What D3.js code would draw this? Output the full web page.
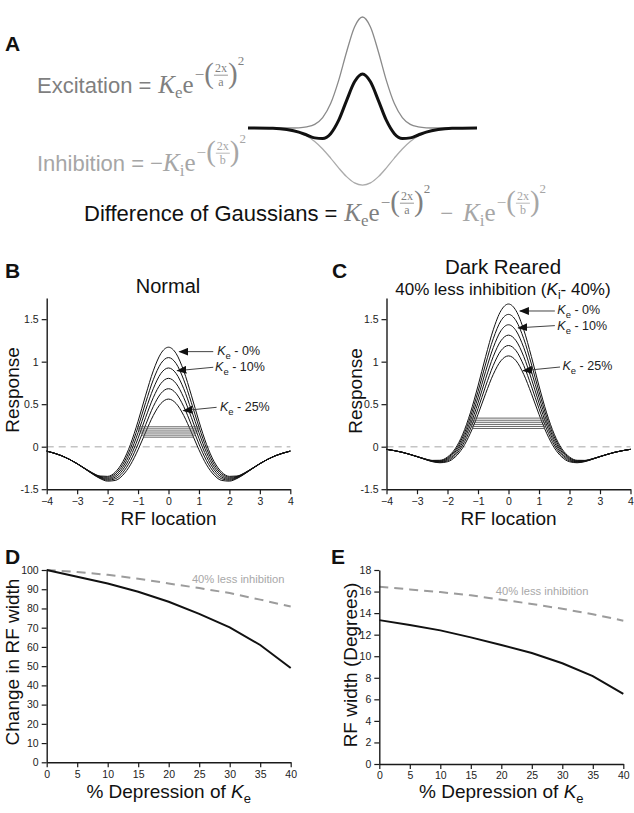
<!DOCTYPE html>
<html><head><meta charset="utf-8">
<script src="https://cdn.jsdelivr.net/npm/d3@7"></script>
<style>
body{margin:0;background:#fff}
svg{display:block}
</style>
</head><body>
<svg id="chart" width="634" height="813"></svg>
<script>
// ---------------- DATA ----------------
// Panel A schematic (offset from centre, arbitrary units; amplitude relative to excitation peak)
const schemOffset = [0, 8, 16, 24, 32, 40, 48, 56, 64, 76, 90, 115];
const schemExcitation = [1, 0.910, 0.685, 0.427, 0.220, 0.094, 0.033, 0.010, 0.002, 0.0002, 0, 0];
const schemInhibition = [0.514, 0.494, 0.438, 0.359, 0.271, 0.189, 0.122, 0.072, 0.040, 0.014, 0.003, 0.0001];
const schemDoG = [0.486, 0.416, 0.247, 0.068, -0.051, -0.095, -0.089, -0.063, -0.037, -0.014, -0.003, -0.0001];

// Panels B/C: RF location (right half, curves are symmetric)
const rfLocation = [0, 0.25, 0.5, 0.75, 1, 1.25, 1.5, 1.75, 2, 2.25, 2.5, 2.75, 3, 3.5, 4];
const keDepression = ["0%", "5%", "10%", "15%", "20%", "25%"];
const normalResponse = [
  [1.170, 1.096, 0.892, 0.606, 0.299, 0.026, -0.177, -0.300, -0.349, -0.345, -0.307, -0.254, -0.199, -0.108, -0.052],
  [1.048, 0.978, 0.787, 0.519, 0.232, -0.021, -0.209, -0.319, -0.360, -0.350, -0.310, -0.255, -0.199, -0.108, -0.052],
  [0.926, 0.861, 0.682, 0.432, 0.165, -0.069, -0.241, -0.339, -0.372, -0.356, -0.312, -0.256, -0.200, -0.108, -0.052],
  [0.804, 0.743, 0.577, 0.345, 0.098, -0.117, -0.272, -0.358, -0.383, -0.362, -0.315, -0.258, -0.200, -0.108, -0.052],
  [0.682, 0.626, 0.472, 0.258, 0.031, -0.165, -0.304, -0.378, -0.394, -0.368, -0.318, -0.259, -0.201, -0.108, -0.052],
  [0.560, 0.508, 0.367, 0.171, -0.036, -0.213, -0.335, -0.397, -0.405, -0.374, -0.321, -0.260, -0.201, -0.109, -0.052]
];
const darkResponse = [
  [1.678, 1.598, 1.375, 1.060, 0.715, 0.398, 0.147, -0.025, -0.121, -0.160, -0.161, -0.142, -0.115, -0.064, -0.031],
  [1.556, 1.480, 1.270, 0.973, 0.648, 0.350, 0.115, -0.044, -0.132, -0.166, -0.164, -0.143, -0.116, -0.064, -0.031],
  [1.434, 1.363, 1.165, 0.886, 0.581, 0.302, 0.083, -0.063, -0.143, -0.172, -0.167, -0.144, -0.116, -0.064, -0.031],
  [1.312, 1.245, 1.060, 0.799, 0.514, 0.255, 0.052, -0.083, -0.154, -0.177, -0.170, -0.146, -0.117, -0.065, -0.031],
  [1.190, 1.128, 0.955, 0.712, 0.447, 0.207, 0.020, -0.102, -0.166, -0.183, -0.173, -0.147, -0.117, -0.065, -0.031],
  [1.068, 1.010, 0.850, 0.625, 0.380, 0.159, -0.012, -0.122, -0.177, -0.189, -0.176, -0.148, -0.118, -0.065, -0.031]
];
// width-measurement bars (level, half-width)
const normalBarLevel = [0.234, 0.210, 0.185, 0.161, 0.136, 0.112];
const normalBarHalf = [1.06, 1.02, 0.98, 0.94, 0.88, 0.82];
const darkBarLevel = [0.336, 0.311, 0.287, 0.262, 0.238, 0.214];
const darkBarHalf = [1.31, 1.29, 1.27, 1.24, 1.22, 1.19];

const responseTicks = [-0.5, 0, 0.5, 1, 1.5];
const responseTickLabels = ["-1.5", "0", "0.5", "1", "1.5"];
const rfTicks = [-4, -3, -2, -1, 0, 1, 2, 3, 4];

// Panels D/E
const depressionKe = [0, 5, 10, 15, 20, 25, 30, 35, 40];
const widthChangeNormal = [100, 96.5, 93.0, 88.7, 83.5, 77.2, 70.2, 61.0, 49.0];
const widthChangeDark = [100, 99.0, 97.5, 95.5, 93.0, 90.6, 88.0, 84.6, 81.0];
const rfWidthNormal = [13.35, 12.9, 12.4, 11.75, 11.05, 10.3, 9.35, 8.15, 6.5];
const rfWidthDark = [16.45, 16.2, 15.95, 15.65, 15.25, 14.85, 14.4, 13.9, 13.3];
const changeTicks = [0, 10, 20, 30, 40, 50, 60, 70, 80, 90, 100];
const degreeTicks = [0, 2, 4, 6, 8, 10, 12, 14, 16, 18];
const depressionTicks = [0, 5, 10, 15, 20, 25, 30, 35, 40];

// ---------------- DRAWING ----------------
const SANS = '"Liberation Sans", Arial, Helvetica, sans-serif';
const SERIF = '"Liberation Serif", "Times New Roman", serif';
const svg = d3.select('#chart').attr('font-family', SANS);
const defs = svg.append('defs');
defs.append('marker').attr('id', 'arrowhead')
  .attr('markerUnits', 'userSpaceOnUse').attr('markerWidth', 10).attr('markerHeight', 8)
  .attr('refX', 9).attr('refY', 4).attr('orient', 'auto')
  .append('path').attr('d', 'M0,0 L10,4 L0,8 Z').attr('fill', '#111');

function panelLetter(t, x, y) {
  svg.append('text').attr('x', x).attr('y', y).attr('font-size', 21).attr('font-weight', 'bold')
    .attr('fill', '#111').text(t);
}
function styleAxis(g) {
  g.attr('font-family', SANS).attr('font-size', 10.5);
  g.selectAll('.domain').attr('stroke', '#1a1a1a').attr('stroke-width', 1.4);
  g.selectAll('.tick line').attr('stroke', '#1a1a1a').attr('stroke-width', 1.2);
  g.selectAll('.tick text').attr('fill', '#222');
}
function kLabel(sel, sub, before, after, subSize, shift) {
  if (before) sel.append('tspan').text(before);
  sel.append('tspan').attr('font-style', 'italic').text('K');
  sel.append('tspan').attr('font-size', subSize).attr('dy', shift).text(sub);
  sel.append('tspan').attr('dy', -shift).text(after);
}

// ----- Panel A -----
panelLetter('A', 5, 51);
const xA = d3.scaleLinear().domain([-115, 115]).range([248, 477]);
const yA = d3.scaleLinear().domain([0, 1]).range([128, 17]);
function mirrorPts(xs, ys) {
  const pts = [];
  for (let i = xs.length - 1; i > 0; i--) pts.push([-xs[i], ys[i]]);
  xs.forEach((x, i) => pts.push([x, ys[i]]));
  return pts;
}
const lineA = d3.line().x(d => xA(d[0])).y(d => yA(d[1])).curve(d3.curveMonotoneX);
svg.append('path').attr('d', lineA(mirrorPts(schemOffset, schemExcitation)))
  .attr('fill', 'none').attr('stroke', '#8a8a8a').attr('stroke-width', 1.3);
svg.append('path').attr('d', lineA(mirrorPts(schemOffset, schemInhibition.map(v => -v))))
  .attr('fill', 'none').attr('stroke', '#ababab').attr('stroke-width', 1.3);
svg.append('path').attr('d', lineA(mirrorPts(schemOffset, schemDoG)))
  .attr('fill', 'none').attr('stroke', '#111').attr('stroke-width', 3);

const EXC = '#7f7f7f', INH = '#a6a6a6';
// whole formula row = one <text> made of positioned <tspan>s (+ fraction bars)
function formula(x0, base, pieces) {
  let x = x0;
  const g = svg.append('g');
  const items = [];
  function measure(str, font, size, style) {
    const t = g.append('text').attr('font-family', font).attr('font-size', size).text(str);
    if (style) t.attr('font-style', style);
    const w = t.node().getComputedTextLength(); t.remove(); return w;
  }
  function add(str, font, size, color, y, style, xx) {
    items.push({str, font, size, color, y, style, x: xx === undefined ? x : xx});
    return measure(str, font, size, style);
  }
  pieces.forEach(p => {
    if (p.kind === 'text') {
      x += add(p.s, SANS, 22, p.color, base);
    } else if (p.kind === 'minus') {
      x += add('\u2212', SERIF, 23, p.color, base);
    } else if (p.kind === 'K') {
      x += add('K', SERIF, 25, p.color, base, 'italic');
      x += add(p.sub, SERIF, 17, p.color, base + 5);
      x += add('e', SERIF, 25, p.color, base);
      x += 1;
      x += add('\u2212', SERIF, 17, p.color, base - 13);
      x += add('(', SERIF, 29, p.color, base - 10);
      const nw = measure('2x', SERIF, 12), dw = measure(p.den, SERIF, 12);
      const fw = nw + 2;
      add('2x', SERIF, 12, p.color, base - 21.5, null, x + (fw - nw) / 2);
      add(p.den, SERIF, 12, p.color, base - 7, null, x + (fw - dw) / 2);
      g.append('line').attr('x1', x).attr('x2', x + fw).attr('y1', base - 17.8).attr('y2', base - 17.8)
        .attr('stroke', p.color).attr('stroke-width', 0.8);
      x += fw;
      x += add(')', SERIF, 29, p.color, base - 10);
      x += add('2', SERIF, 13, p.color, base - 28);
    } else if (p.kind === 'gap') {
      x += p.w;
    }
  });
  const t = g.append('text');
  items.forEach(it => {
    const ts = t.append('tspan').attr('x', it.x).attr('y', it.y).attr('font-family', it.font)
      .attr('font-size', it.size).attr('fill', it.color).text(it.str);
    if (it.style) ts.attr('font-style', it.style);
  });
}
formula(37, 93, [
  {kind: 'text', s: 'Excitation =', color: EXC},
  {kind: 'gap', w: 7},
  {kind: 'K', sub: 'e', den: 'a', color: EXC}
]);
formula(37, 171, [
  {kind: 'text', s: 'Inhibition =', color: INH},
  {kind: 'gap', w: 6},
  {kind: 'minus', color: INH},
  {kind: 'K', sub: 'i', den: 'b', color: INH}
]);
formula(84, 221, [
  {kind: 'text', s: 'Difference of Gaussians =', color: '#111'},
  {kind: 'gap', w: 7},
  {kind: 'K', sub: 'e', den: 'a', color: EXC},
  {kind: 'gap', w: 10},
  {kind: 'minus', color: INH},
  {kind: 'gap', w: 10},
  {kind: 'K', sub: 'i', den: 'b', color: INH}
]);

// ----- Panels B & C -----
function responsePanel(opt) {
  const x = d3.scaleLinear().domain([-4, 4]).range(opt.xr);
  const y = d3.scaleLinear().domain([-0.5, 1.75]).range([489.2, 297.9]);
  const g = svg.append('g');
  g.append('line').attr('x1', x(-4)).attr('x2', x(4)).attr('y1', y(0)).attr('y2', y(0))
    .attr('stroke', '#c4c4c4').attr('stroke-width', 1.5).attr('stroke-dasharray', '7,5');
  const line = d3.line().x(d => x(d[0])).y(d => y(d[1])).curve(d3.curveMonotoneX);
  opt.curves.forEach(c => {
    g.append('path').attr('d', line(mirrorPts(rfLocation, c))).attr('fill', 'none')
      .attr('stroke', '#111').attr('stroke-width', 1);
  });
  opt.levels.forEach((lv, i) => {
    g.append('line').attr('x1', x(-opt.half[i])).attr('x2', x(opt.half[i]))
      .attr('y1', y(lv)).attr('y2', y(lv)).attr('stroke', '#555').attr('stroke-width', 0.9);
  });
  const ax = g.append('g').attr('transform', `translate(0,${y(-0.5)})`)
    .call(d3.axisBottom(x).tickValues(rfTicks).tickSize(5).tickSizeOuter(0));
  styleAxis(ax);
  const ay = g.append('g').attr('transform', `translate(${x(-4)},0)`)
    .call(d3.axisLeft(y).tickValues(responseTicks).tickFormat((d, i) => responseTickLabels[i]).tickSize(5).tickSizeOuter(0));
  styleAxis(ay);
  opt.arrows.forEach(a => {
    g.append('line').attr('x1', x(a.from[0])).attr('y1', y(a.from[1]))
      .attr('x2', x(a.to[0])).attr('y2', y(a.to[1]))
      .attr('stroke', '#444').attr('stroke-width', 1).attr('marker-end', 'url(#arrowhead)');
    const t = g.append('text').attr('x', x(a.label[0])).attr('y', y(a.label[1]))
      .attr('font-size', 12.5).attr('fill', '#222');
    kLabel(t, 'e', '', ' - ' + a.text, 9.5, 4);
  });
  g.append('text').attr('x', (opt.xr[0] + opt.xr[1]) / 2).attr('y', 525).attr('text-anchor', 'middle')
    .attr('font-size', 19).attr('fill', '#111').text('RF location');
  g.append('text').attr('transform', `translate(${opt.ylabX},${opt.ylabY}) rotate(-90)`)
    .attr('text-anchor', 'middle').attr('font-size', 19).attr('fill', '#111').text('Response');
  return {x, y, g};
}

panelLetter('B', 5, 278);
svg.append('text').attr('x', 168).attr('y', 293).attr('text-anchor', 'middle')
  .attr('font-size', 20).attr('fill', '#111').text('Normal');
responsePanel({
  xr: [46.7, 290.3], curves: normalResponse, levels: normalBarLevel, half: normalBarHalf,
  ylabX: 19, ylabY: 390,
  arrows: [
    {from: [1.47, 1.118], to: [0.36, 1.118], label: [1.6, 1.08], text: keDepression[0]},
    {from: [1.47, 0.934], to: [0.29, 0.894], label: [1.53, 0.885], text: keDepression[2]},
    {from: [1.58, 0.463], to: [0.49, 0.424], label: [1.69, 0.42], text: keDepression[5]}
  ]
});

panelLetter('C', 332, 278);
svg.append('text').attr('x', 503).attr('y', 273.5).attr('text-anchor', 'middle')
  .attr('font-size', 20.5).attr('fill', '#111').text('Dark Reared');
{
  const t = svg.append('text').attr('x', 503).attr('y', 294.5).attr('text-anchor', 'middle')
    .attr('font-size', 17).attr('fill', '#111');
  kLabel(t, 'i', '40% less inhibition (', '- 40%)', 12, 4);
}
responsePanel({
  xr: [386.5, 630.5], curves: darkResponse, levels: darkBarLevel, half: darkBarHalf,
  ylabX: 362, ylabY: 391,
  arrows: [
    {from: [1.52, 1.596], to: [0.376, 1.596], label: [1.6, 1.565], text: keDepression[0]},
    {from: [1.52, 1.424], to: [0.32, 1.398], label: [1.6, 1.37], text: keDepression[2]},
    {from: [1.69, 0.937], to: [0.48, 0.894], label: [1.77, 0.906], text: keDepression[5]}
  ]
});

// ----- Panels D & E -----
function widthPanel(opt) {
  const x = d3.scaleLinear().domain([0, 40]).range(opt.xr);
  const y = d3.scaleLinear().domain(opt.yd).range(opt.yr);
  const g = svg.append('g');
  const line = d3.line().x((d, i) => x(depressionKe[i])).y(d => y(d));
  g.append('path').attr('d', line(opt.dark)).attr('fill', 'none').attr('stroke', '#9c9c9c')
    .attr('stroke-width', 2).attr('stroke-dasharray', '9,6');
  g.append('path').attr('d', line(opt.normal)).attr('fill', 'none').attr('stroke', '#111')
    .attr('stroke-width', 2);
  const ax = g.append('g').attr('transform', `translate(0,${opt.yr[0]})`)
    .call(d3.axisBottom(x).tickValues(depressionTicks).tickSize(5).tickSizeOuter(0));
  styleAxis(ax);
  const ay = g.append('g').attr('transform', `translate(${opt.xr[0]},0)`)
    .call(d3.axisLeft(y).tickValues(opt.ticks).tickSize(5).tickSizeOuter(0));
  styleAxis(ay);
  g.append('text').attr('x', x(opt.legend[0])).attr('y', y(opt.legend[1]))
    .attr('font-size', 11.2).attr('fill', '#a8a8a8').text('40% less inhibition');
  const t = g.append('text').attr('x', (opt.xr[0] + opt.xr[1]) / 2).attr('y', 798)
    .attr('text-anchor', 'middle').attr('font-size', 19).attr('fill', '#111');
  kLabel(t, 'e', '% Depression of ', '', 13, 5);
  g.append('text').attr('transform', `translate(${opt.ylabX},${opt.ylabY}) rotate(-90)`)
    .attr('text-anchor', 'middle').attr('font-size', 19).attr('fill', '#111').text(opt.ylabel);
}
panelLetter('D', 5, 564);
widthPanel({
  xr: [46.7, 290.7], yd: [0, 100], yr: [762.3, 570], ticks: changeTicks,
  normal: widthChangeNormal, dark: widthChangeDark, legend: [23.8, 93.2],
  ylabX: 19, ylabY: 662, ylabel: 'Change in RF width'
});
panelLetter('E', 331, 564);
widthPanel({
  xr: [379.3, 623.3], yd: [0, 18], yr: [764, 570], ticks: degreeTicks,
  normal: rfWidthNormal, dark: rfWidthDark, legend: [19.1, 15.68],
  ylabX: 357, ylabY: 665, ylabel: 'RF width (Degrees)'
});
</script>
</body></html>
